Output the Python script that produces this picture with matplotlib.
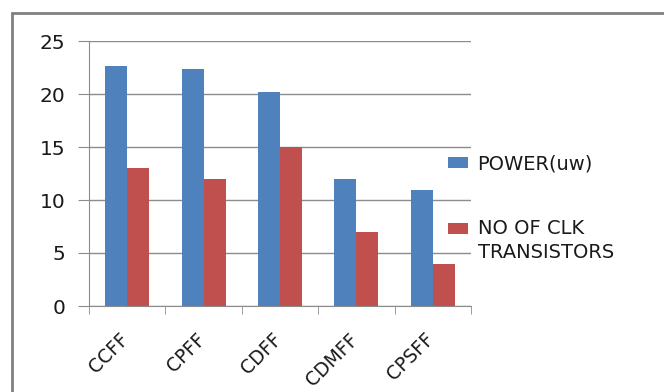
import matplotlib.pyplot as plt
import numpy as np
from matplotlib.patches import Rectangle
from matplotlib.transforms import ScaledTranslation

categories = ['CCFF', 'CPFF', 'CDFF', 'CDMFF', 'CPSFF']
power = [22.6, 22.4, 20.2, 12, 10.9]
clk_transistors = [13, 12, 15, 7, 4]
series_names = ['POWER(uw)', 'NO OF CLK\nTRANSISTORS']

plt.rcParams['font.family'] = ['DejaVu Sans']

W, H = 664, 392
fig = plt.figure(figsize=(W / 100, H / 100), dpi=100)
ax = fig.add_axes([89 / W, 1 - 306 / H, (471 - 89) / W, (306 - 41) / H])

# outer chart border (cut off at right and bottom)
fig.patches.append(Rectangle((12 / W, -0.1), 1.2, 1 - 13 / H + 0.1,
                             transform=fig.transFigure, fill=False,
                             edgecolor='#808080', linewidth=2))

x = np.arange(len(categories))
w = 0.288
ax.bar(x - w / 2, power, w, color='#4F81BD', label=series_names[0], zorder=3)
ax.bar(x + w / 2, clk_transistors, w, color='#C0504D', label=series_names[1], zorder=3)

ax.set_xlim(-0.5, len(categories) - 0.5)
ax.set_ylim(0, 25)
ax.set_yticks(range(0, 26, 5))
ax.yaxis.grid(True, color='#8C8C8C', linewidth=1, zorder=0)

for s in ['top', 'right']:
    ax.spines[s].set_visible(False)
ax.spines['left'].set_color('#8C8C8C')
ax.spines['bottom'].set_color('#8C8C8C')

ax.set_xticks(x)
ax.set_xticklabels(categories, rotation=45, ha='right', rotation_mode='anchor',
                   fontsize=13.5, color='#1a1a1a')
ax.tick_params(axis='x', length=0, pad=17)
shift = ScaledTranslation(-8 / 100, 0, fig.dpi_scale_trans)
for lbl in ax.get_xticklabels():
    lbl.set_transform(lbl.get_transform() + shift)
ax.set_xticks(np.arange(len(categories) + 1) - 0.5, minor=True)
ax.tick_params(axis='x', which='minor', length=6, color='#8C8C8C', direction='out')
ax.tick_params(axis='y', length=8, color='#8C8C8C', labelsize=14.5,
               labelcolor='#1a1a1a', pad=9)

leg = ax.legend(loc='center left', bbox_to_anchor=(0.895, 0.37), frameon=False,
                fontsize=14, handlelength=1.0, handleheight=0.5,
                labelspacing=2.35, handletextpad=0.5)
for t in leg.get_texts():
    t.set_color('#1a1a1a')
    t.set_linespacing(1.3)
# align the red square with the first line of its label
red = leg.legend_handles[1]
red.set_y(red.get_y() + 9)

fig.savefig('out.png', dpi=100)
